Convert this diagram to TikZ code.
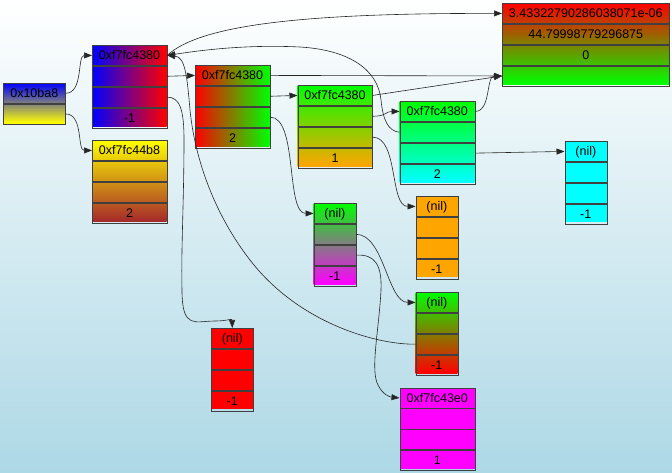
\documentclass[tikz,border=0pt]{standalone}
\usepackage{fontspec}
\setmainfont{Liberation Sans}
\usetikzlibrary{arrows.meta}
\definecolor{bgblue}{RGB}{173,216,230}
\definecolor{brownc}{RGB}{165,42,42}
\definecolor{orangec}{RGB}{255,165,0}
\definecolor{pgreen}{RGB}{0,255,0}
\definecolor{pcyan}{RGB}{0,255,255}
\definecolor{pmagenta}{RGB}{255,0,255}
\definecolor{pyellow}{RGB}{255,255,0}
\definecolor{pred}{RGB}{255,0,0}
\definecolor{pblue}{RGB}{0,0,255}
\tikzset{
 cell/.style={draw=black!75, line width=0.6pt, inner sep=0pt, minimum height=20.25pt,
   text height=9pt, text depth=0pt, font=\fontsize{12.5}{14}\selectfont, anchor=north},
 link/.style={draw=black!85, line width=0.6pt, -{Triangle[length=8pt,width=6pt]}},
}
\newcommand\recfour[9]{%
 \path[#5] (#2,#3) rectangle ++(#4,81);
 \node[cell, minimum width=#4pt, anchor=north west] (#1-0) at (#2,#3) {#6};
 \node[cell, minimum width=#4pt] (#1-1) at (#1-0.south) {#7};
 \node[cell, minimum width=#4pt] (#1-2) at (#1-1.south) {#8};
 \node[cell, minimum width=#4pt] (#1-3) at (#1-2.south) {#9};
}
\begin{document}
\begin{tikzpicture}[x=1pt,y=-1pt]
\useasboundingbox (0,0) rectangle (672,472);
\shade[top color=white, bottom color=bgblue] (0,0) rectangle (672,472);
% root record
\path[top color=pblue, bottom color=pyellow] (3,83) rectangle ++(62,40);
\node[cell, minimum width=62pt, minimum height=20pt, anchor=north west] (A-0) at (3,83) {0x10ba8};
\node[cell, minimum width=62pt, minimum height=20pt] (A-1) at (A-0.south) {};
% records
\recfour{B}{92}{45}{74.5}{left color=pblue,right color=pred}{0xf7fc4380}{}{}{-1}
\recfour{C}{92}{140}{74.5}{top color=pyellow,bottom color=brownc}{0xf7fc44b8}{}{}{2}
\recfour{D}{195}{65}{74.5}{left color=pred,right color=pgreen}{0xf7fc4380}{}{}{2}
\recfour{E}{297.5}{85}{74.5}{top color=pgreen,bottom color=orangec}{0xf7fc4380}{}{}{1}
\recfour{F}{502}{3}{167}{top color=pred,bottom color=pgreen}{3.43322790286038071e-06}{44.79998779296875}{0}{}
\recfour{G}{399.5}{101}{75}{top color=pgreen,bottom color=pcyan}{0xf7fc4380}{}{}{2}
\recfour{H}{564.5}{141}{42}{fill=pcyan}{(nil)}{}{}{-1}
\recfour{I}{313.5}{203}{42}{top color=pgreen,bottom color=pmagenta}{(nil)}{}{}{-1}
\recfour{J}{415.5}{196}{42}{fill=orangec}{(nil)}{}{}{-1}
\recfour{K}{415.5}{292}{42}{top color=pgreen,bottom color=pred}{(nil)}{}{}{-1}
\recfour{L}{211}{328}{42}{fill=pred}{(nil)}{}{}{-1}
\recfour{M}{399.5}{387.5}{75}{fill=pmagenta}{0xf7fc43e0}{}{}{1}
% links
\draw[link] (A-0.east) .. controls +(18,0) and +(-15,0) .. (B-0.west);
\draw[link] (A-1.east) .. controls +(18,0) and +(-15,0) .. (C-0.west);
\draw[link] (B-0.east) .. controls (200,25) and (302,13) .. (F-0.west);
\draw[link] (B-1.east) -- (D-0.west);
\draw[link] (B-2.east) .. controls (180,97) and (184,110) .. (184,140)
  .. controls (184,200) and (181,250) .. (182,290)
  .. controls (182,330) and (195,321) .. (215,321)
  .. controls (228,321) and (232,318) .. (L-0.north);
\draw[link] (D-0.east) -- (F-3.west);
\draw[link] (D-1.east) -- (E-0.west);
\draw[link] (D-2.east) .. controls +(28,0) and +(-28,0) .. (I-0.west);
\draw[link] (E-0.east) -- (F-3.west);
\draw[link] (E-1.east) .. controls +(14,0) and +(-14,0) .. (G-0.west);
\draw[link] (E-2.east) .. controls +(26,0) and +(-26,0) .. (J-0.west);
\draw[link] (G-0.east) .. controls +(16,0) and +(-16,0) .. (F-3.west);
\draw[link] (G-1.west) .. controls (388,131) and (383,120) .. (381,100)
  .. controls (378,70) and (350,50) .. (300,47)
  .. controls (240,44) and (190,52) .. (B-0.east);
\draw[link] (G-2.east) -- (H-0.west);
\draw[link] (I-1.east) .. controls +(28,0) and +(-28,0) .. (K-0.west);
\draw[link] (I-2.east) .. controls (375,254) and (382,265) .. (381,290)
  .. controls (379,330) and (370,370) .. (378,385)
  .. controls (383,395) and (390,397) .. (M-0.west);
\draw[link] (K-2.west) .. controls (380,345) and (300,325) .. (250,260)
  .. controls (215,215) and (195,160) .. (190,110)
  .. controls (187,75) and (185,57) .. (B-0.east);
\end{tikzpicture}
\end{document}
